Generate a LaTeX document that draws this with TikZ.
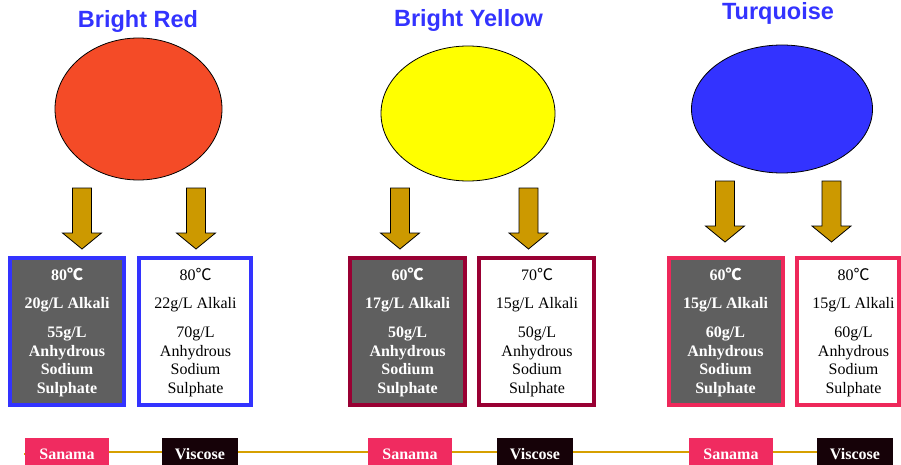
\documentclass[tikz,border=0pt]{standalone}
\usepackage{fontspec}
\setmainfont{Liberation Serif}
\newfontfamily\titlefont{Liberation Sans}
\newfontfamily\cjk{Noto Sans CJK SC}
\usetikzlibrary{backgrounds,shapes.geometric}
\definecolor{titleblue}{RGB}{51,51,255}
\definecolor{ellred}{RGB}{244,75,39}
\definecolor{ellyellow}{RGB}{255,255,0}
\definecolor{ellblue}{RGB}{51,51,255}
\definecolor{arrowgold}{RGB}{204,153,0}
\definecolor{bblue}{RGB}{51,51,255}
\definecolor{bmaroon}{RGB}{153,0,51}
\definecolor{bpink}{RGB}{238,40,90}
\definecolor{darkfill}{RGB}{95,95,95}
\definecolor{sanama}{RGB}{240,43,96}
\definecolor{viscose}{RGB}{22,2,8}
\definecolor{linegold}{RGB}{214,160,0}
\tikzset{
  title/.style={font=\titlefont\bfseries\fontsize{23.5}{26}\selectfont, text=titleblue, anchor=base, inner sep=0},
  blob/.style={ellipse, draw=black, line width=0.8pt, inner sep=0},
  downarrow/.style={fill=arrowgold, draw=black, line width=0.8pt, line join=miter},
  condbox/.style={rectangle, line width=4pt, inner sep=0, minimum height=147},
  darkbox/.style={condbox, fill=darkfill},
  lightbox/.style={condbox, fill=white},
  darktxt/.style={font=\bfseries\fontsize{16}{18}\selectfont, text=white, anchor=base, inner sep=0},
  lighttxt/.style={font=\fontsize{16}{18}\selectfont, text=black, anchor=base, inner sep=0},
  label/.style={rectangle, inner sep=0, minimum height=27, text height=15, text depth=0,
    font=\bfseries\fontsize{16}{18}\selectfont, text=white},
  sanamabox/.style={label, fill=sanama, minimum width=84},
  viscosebox/.style={label, fill=viscose, minimum width=76},
}
\newcommand\dnarrow[5]{% cx, top, headstart, tip, unused
  \path[downarrow] (#1-9.5,#2) -- (#1+9.5,#2) -- (#1+9.5,#3) -- (#1+19.5,#3) -- (#1,#4)
    -- (#1-19.5,#3) -- (#1-9.5,#3) -- cycle;}
\newcommand\condbox[9]{% name, boxx, width, textx, boxstyle, txtstyle, temp, alkali, salt
  \node[#5, minimum width=#3] (#1) at (#2,331.5) {};
  \node[#6] (#1-a) at (#4,280) {#7{\cjk ℃}};
  \node[#6] (#1-b) at (#4,308.5) {#8g/L Alkali};
  \node[#6] (#1-c) at (#4,337.5) {#9g/L};
  \node[#6] (#1-d) at (#4,356.2) {Anhydrous};
  \node[#6] (#1-e) at (#4,374.8) {Sodium};
  \node[#6] (#1-f) at (#4,393.4) {Sulphate};}
\begin{document}
\begin{tikzpicture}[x=1pt,y=-1pt]
\useasboundingbox (0,0) rectangle (901,465);
% titles
\node[title] (t1) at (138,27.7) {Bright Red};
\node[title] (t2) at (468.5,26.5) {Bright Yellow};
\node[title] (t3) at (778,20) {Turquoise};
% ellipses
\node[blob, fill=ellred, minimum width=167, minimum height=142] (e1) at (138.5,109) {};
\node[blob, fill=ellyellow, minimum width=174, minimum height=135] (e2) at (468,113.5) {};
\node[blob, fill=ellblue, minimum width=181, minimum height=128] (e3) at (782,109) {};
% arrows
\dnarrow{82}{188}{233}{249}{}
\dnarrow{196}{188}{233}{249}{}
\dnarrow{400}{188}{233}{249}{}
\dnarrow{528.5}{188}{233}{249}{}
\dnarrow{725}{181}{226}{242}{}
\dnarrow{831.5}{181}{226}{242}{}
% condition boxes
\condbox{b1}{67}{114}{67}{darkbox, draw=bblue}{darktxt}{80}{20}{55}
\condbox{b2}{195}{112}{195.5}{lightbox, draw=bblue}{lighttxt}{80}{22}{70}
\condbox{b3}{407.5}{115}{407.6}{darkbox, draw=bmaroon}{darktxt}{60}{17}{50}
\condbox{b4}{536.5}{115}{537}{lightbox, draw=bmaroon}{lighttxt}{70}{15}{50}
\condbox{b5}{726}{114}{725.5}{darkbox, draw=bpink}{darktxt}{60}{15}{60}
\condbox{b6}{848}{102}{853.5}{lightbox, draw=bpink}{lighttxt}{80}{15}{60}
% bottom labels
\node[sanamabox] (s1) at (67,451.5) {Sanama};
\node[viscosebox] (v1) at (200,451.5) {Viscose};
\node[sanamabox] (s2) at (410,451.5) {Sanama};
\node[viscosebox] (v2) at (535,451.5) {Viscose};
\node[sanamabox] (s3) at (731,451.5) {Sanama};
\node[viscosebox] (v3) at (855,451.5) {Viscose};
\coordinate (lstart) at (24,453.5);
\begin{scope}[on background layer]
\draw[linegold, line width=2pt] (lstart) -- (s1.west |- lstart) (s1) -- (v1) -- (s2) -- (v2) -- (s3) -- (v3);
\end{scope}
\end{tikzpicture}
\end{document}
